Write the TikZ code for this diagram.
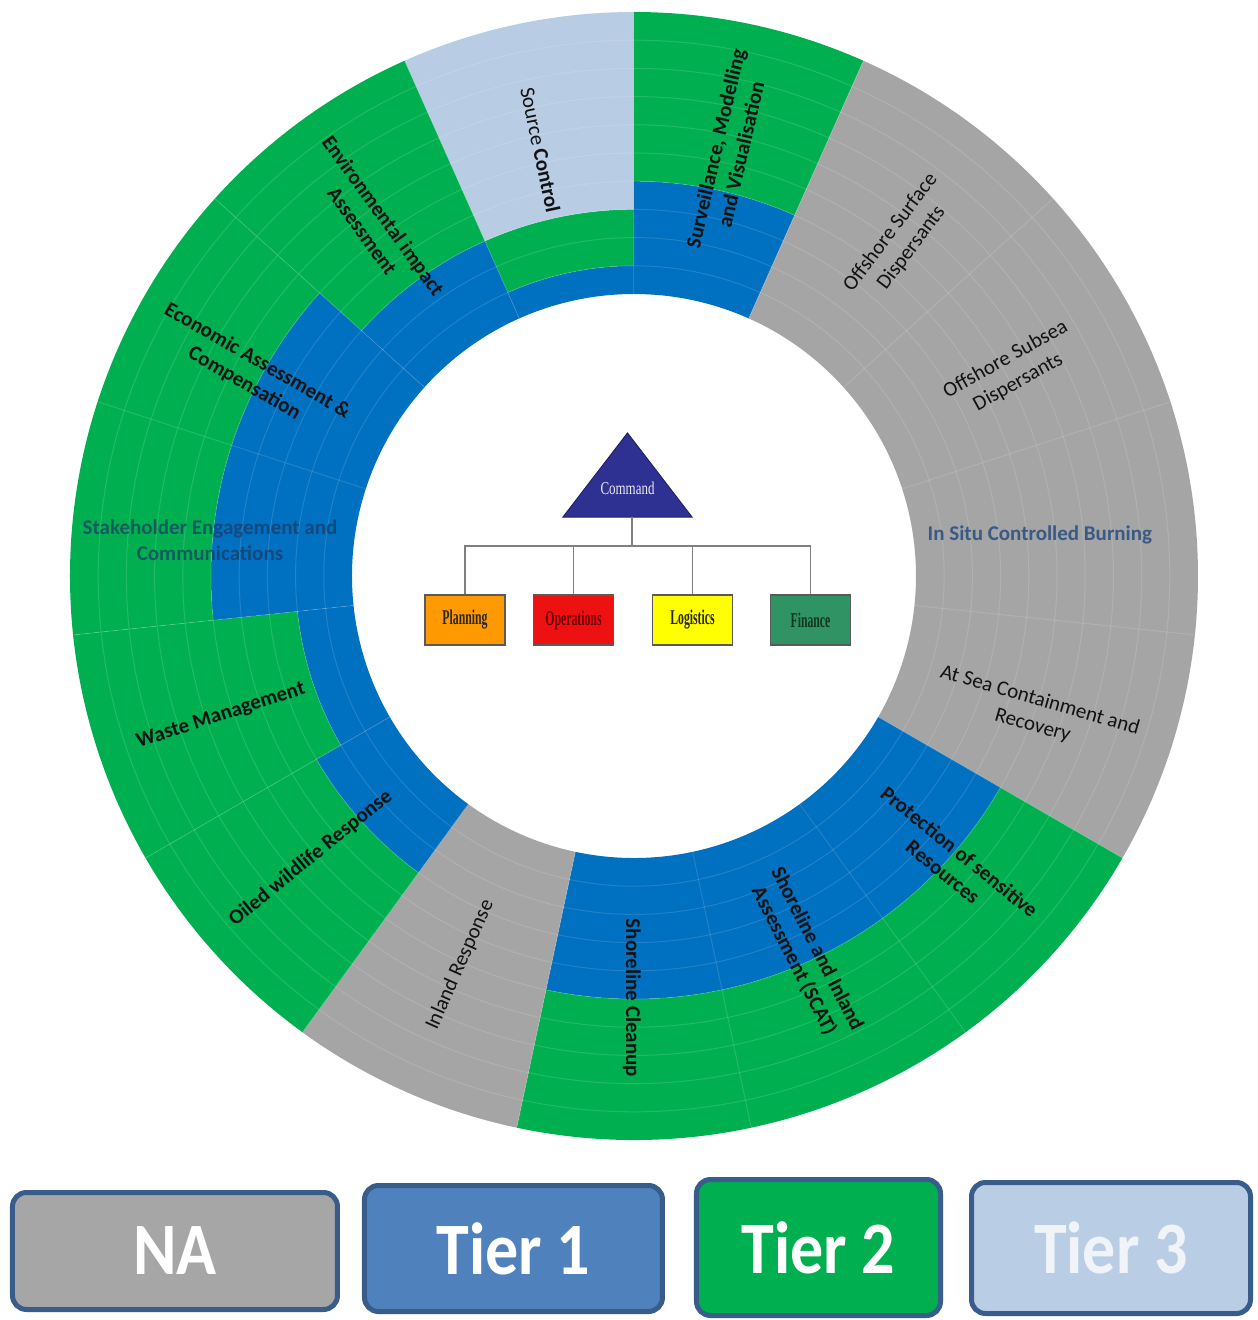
\documentclass[tikz,border=0pt]{standalone}
\usepackage{fontspec}
\setmainfont{Carlito}
\newfontfamily\orgserif{Liberation Serif}

% tier colours
\definecolor{naGrey}{HTML}{A5A5A5}
\definecolor{tierOne}{HTML}{0070C0}
\definecolor{tierTwo}{HTML}{00B050}
\definecolor{tierThree}{HTML}{B8CCE4}
% legend colours
\definecolor{legGrey}{HTML}{A6A6A6}
\definecolor{legOne}{HTML}{4F81BD}
\definecolor{legTwo}{HTML}{00B050}
\definecolor{legThree}{HTML}{B9CDE5}
\definecolor{legEdge}{HTML}{385D8A}
% label inks
\definecolor{labelInk}{HTML}{121212}
\definecolor{burnInk}{HTML}{3A5A85}
\definecolor{stakeInk}{HTML}{1F3864}
% org chart colours
\definecolor{cmdBlue}{HTML}{2E3192}
\definecolor{cmdEdge}{HTML}{1F2266}
\definecolor{planFill}{HTML}{FF9900}
\definecolor{opsFill}{HTML}{EE1111}
\definecolor{logFill}{HTML}{FFFF00}
\definecolor{finFill}{HTML}{2F9364}
\definecolor{orgEdge}{HTML}{5A5A5A}
\definecolor{orgLine}{HTML}{808080}

% annular band: start angle, end angle, inner level, outer level, colour
\newcommand{\ringband}[5]{%
  \fill[#5] (#1:{282+28.2*#3}) arc[start angle=#1, end angle=#2, radius={282+28.2*#3}]
    -- (#2:{282+28.2*#4}) arc[start angle=#2, end angle=#1, radius={282+28.2*#4}] -- cycle;}

\begin{document}
\begin{tikzpicture}[x=1pt,y=1pt,
  gridline/.style={white, opacity=0.13, line width=1pt},
  lab/.style={font=\fontsize{21}{26}\selectfont\bfseries, text=labelInk, align=center, inner sep=0pt},
  labreg/.style={lab, font=\fontsize{21}{26}\selectfont},
  orgbox/.style={draw=orgEdge, line width=1.2pt, minimum width=80pt, minimum height=50pt, inner sep=0pt,
    font=\orgserif\fontsize{21}{24}\selectfont\bfseries},
  orgline/.style={draw=orgLine, line width=1.5pt},
  legbox/.style={draw=legEdge, line width=5pt, rounded corners=14pt, inner sep=0pt, text=white,
    font=\fontsize{66}{70}\selectfont\bfseries}]

\useasboundingbox (-634,-744) rectangle (624,576);
\fill[white] (-634,-744) rectangle (624,576);

% ---- ring of capabilities (levels 0..10 between radius 282 and 564)
% Source Control
\ringband{90}{114}{0}{1}{tierOne}
\ringband{90}{114}{1}{3}{tierTwo}
\ringband{90}{114}{3}{10}{tierThree}
% Surveillance, Modelling and Visualisation
\ringband{66}{90}{0}{4}{tierOne}
\ringband{66}{90}{4}{10}{tierTwo}
% offshore dispersants, in situ burning, at sea containment
\ringband{-30}{66}{0}{10}{naGrey}
% protection, SCAT, shoreline cleanup
\ringband{-102}{-30}{0}{5}{tierOne}
\ringband{-102}{-30}{5}{10}{tierTwo}
% inland response
\ringband{-126}{-102}{0}{10}{naGrey}
% oiled wildlife
\ringband{-150}{-126}{0}{3}{tierOne}
\ringband{-150}{-126}{3}{10}{tierTwo}
% waste management
\ringband{-174}{-150}{0}{2}{tierOne}
\ringband{-174}{-150}{2}{10}{tierTwo}
% stakeholder engagement, economic assessment
\ringband{138}{186}{0}{5}{tierOne}
\ringband{138}{186}{5}{10}{tierTwo}
% environmental impact
\ringband{114}{138}{0}{3}{tierOne}
\ringband{114}{138}{3}{10}{tierTwo}

% faint grid
\foreach \k in {1,...,9}
  \draw[gridline] (0,0) circle[radius={282+28.2*\k}];
\foreach \a in {-6,18,...,330}
  \draw[gridline] (\a:282) -- (\a:564);

% ---- capability labels
\node[lab, rotate=-78] (srcctl) at (102.4:436) {{\mdseries Source} Control};
\node[lab, rotate=77] (survey) at (77.5:435) {Surveillance, Modelling\\and Visualisation};
\node[labreg, rotate=53] (offsurf) at (51.5:429) {Offshore Surface\\Dispersants};
\node[labreg, rotate=29] (offsub) at (28.5:430) {Offshore Subsea\\Dispersants};
\node[lab, text=burnInk] (insitu) at (5.8:408) {In Situ Controlled Burning};
\node[labreg, rotate=-16] (atsea) at (-18.8:425) {At Sea Containment and\\Recovery};
\node[lab, rotate=-39] (protect) at (-42:427) {Protection of sensitive\\Resources};
\node[lab, rotate=-63] (scat) at (-65.7:416) {Shoreline and Inland\\Assessment (SCAT)};
\node[lab, rotate=-90] (cleanup) at (-90.3:422) {Shoreline Cleanup};
\node[labreg, rotate=66] (inland) at (245.9:426) {Inland Response};
\node[lab, rotate=39] (oiled) at (221.1:429) {Oiled wildlife Response};
\node[lab, rotate=18] (waste) at (198.7:436) {Waste Management};
\node[lab, text=stakeInk, text opacity=0.7] (stake) at (-424,36) {Stakeholder Engagement and\\Communications};
\node[lab, rotate=-30] (econ) at (152:434) {Economic Assessment \&\\Compensation};
\node[lab, rotate=-54] (envir) at (126.5:439) {Environmental impact\\Assessment};

% ---- incident command structure in the centre
\fill[cmdBlue, draw=cmdEdge, line width=1pt] (-71,59) -- (58,59) -- (-6.5,143) -- cycle;
\node[inner sep=0pt, text={rgb,255:red,232;green,232;blue,248}, font=\orgserif\fontsize{18}{20}\selectfont] (cmd) at (-6.5,88)
  {\scalebox{0.72}[1]{Command}};
\coordinate (cmdbase) at (-2,59);
\coordinate (bus) at (-2,30);

\node[orgbox, fill=planFill, text=black!85] (plan) at (-169,-44) {\scalebox{0.56}[1]{Planning}};
\node[orgbox, fill=opsFill, text={rgb,255:red,110;green,0;blue,0}] (ops) at (-60.5,-44) {\scalebox{0.56}[1]{Operations}};
\node[orgbox, fill=logFill, text=black!85] (logi) at (58.5,-44) {\scalebox{0.56}[1]{Logistics}};
\node[orgbox, fill=finFill, text={rgb,255:red,18;green,55;blue,32}] (fin) at (176.5,-44) {\scalebox{0.56}[1]{Finance}};

\draw[orgline] (cmdbase) -- (bus);
\draw[orgline] (plan.north) |- (fin.north |- bus) -- (fin.north);
\draw[orgline] (ops.north) -- (ops.north |- bus);
\draw[orgline] (logi.north) -- (logi.north |- bus);

% ---- legend
\node[legbox, fill=legGrey, minimum width=325pt, minimum height=117pt] (legna) at (-459,-675)
  {\scalebox{1}[1.12]{NA}};
\node[legbox, fill=legOne, minimum width=298pt, minimum height=126pt] (legone) at (-120.5,-672.5)
  {\scalebox{1}[1.12]{Tier 1}};
\node[legbox, fill=legTwo, minimum width=244pt, minimum height=136pt] (legtwo) at (184.5,-671.5)
  {\scalebox{1}[1.12]{Tier 2}};
\node[legbox, fill=legThree, text={rgb,255:red,240;green,244;blue,249}, minimum width=279pt, minimum height=131pt] (legthree) at (477,-672)
  {\scalebox{1}[1.12]{Tier 3}};
\end{tikzpicture}
\end{document}
